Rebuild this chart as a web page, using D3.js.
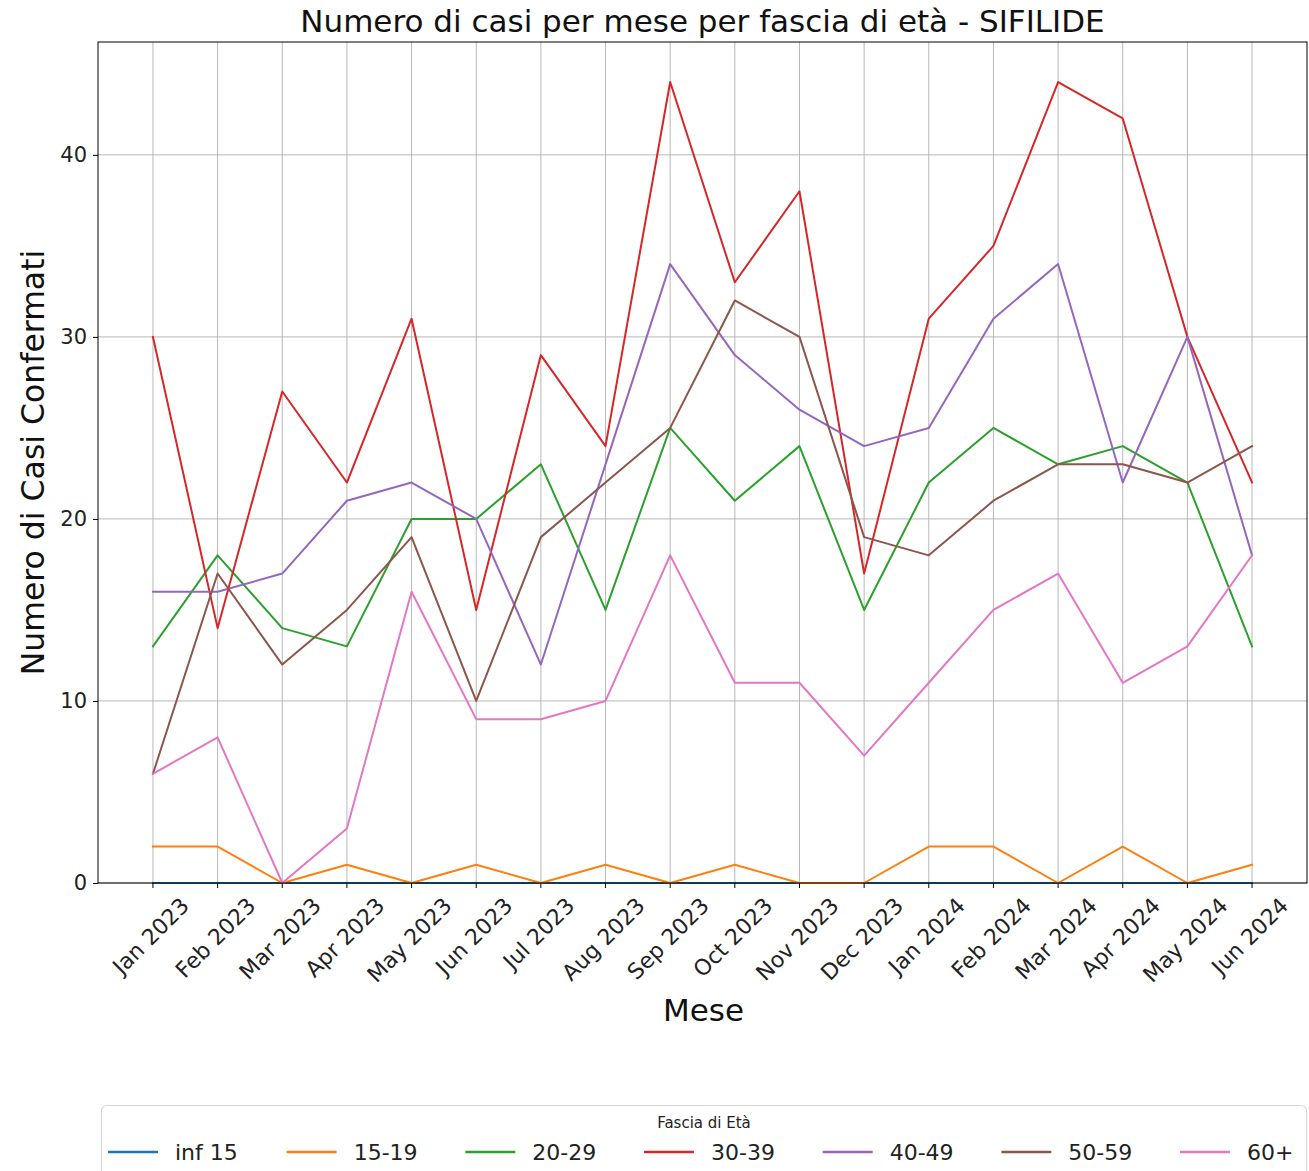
<!DOCTYPE html>
<html>
<head>
<meta charset="utf-8">
<script src="https://cdn.jsdelivr.net/npm/d3@7"></script>
<style>
  html, body { margin: 0; padding: 0; background: #fff; }
  svg { display: block; font-family: "DejaVu Sans", sans-serif; }
</style>
</head>
<body>
<svg id="chart" width="1309" height="1171"></svg>
<script>
const months = ["Jan 2023","Feb 2023","Mar 2023","Apr 2023","May 2023","Jun 2023","Jul 2023","Aug 2023","Sep 2023","Oct 2023","Nov 2023","Dec 2023","Jan 2024","Feb 2024","Mar 2024","Apr 2024","May 2024","Jun 2024"];
const seriesNames = ["inf 15","15-19","20-29","30-39","40-49","50-59","60+"];
const inf15   = [0,0,0,0,0,0,0,0,0,0,0,0,0,0,0,0,0,0];
const s15_19  = [2,2,0,1,0,1,0,1,0,1,0,0,2,2,0,2,0,1];
const s20_29  = [13,18,14,13,20,20,23,15,25,21,24,15,22,25,23,24,22,13];
const s30_39  = [30,14,27,22,31,15,29,24,44,33,38,17,31,35,44,42,30,22];
const s40_49  = [16,16,17,21,22,20,12,23,34,29,26,24,25,31,34,22,30,18];
const s50_59  = [6,17,12,15,19,10,19,22,25,32,30,19,18,21,23,23,22,24];
const s60plus = [6,8,0,3,16,9,9,10,18,11,11,7,11,15,17,11,13,18];
const yTicks  = [0,10,20,30,40];
const colors  = ["#1f77b4","#ff7f0e","#2ca02c","#d62728","#9467bd","#8c564b","#e377c2"];
const seriesValues = [inf15, s15_19, s20_29, s30_39, s40_49, s50_59, s60plus];

const svg = d3.select("#chart");
const L = 98, R = 1307, T = 42, B = 883;

const n = months.length;
const xPos = d3.scaleLinear().domain([-(n - 1) * 0.05, (n - 1) * 1.05]).range([L, R]);
const yMax = 46.2;
const y = d3.scaleLinear().domain([0, yMax]).range([B, T]);

// grid
const g = svg.append("g");
g.selectAll(".vg").data(months).enter().append("line")
  .attr("x1", (d, i) => xPos(i)).attr("x2", (d, i) => xPos(i))
  .attr("y1", T).attr("y2", B)
  .attr("stroke", "#b0b0b0").attr("stroke-width", 0.9);
g.selectAll(".hg").data(yTicks).enter().append("line")
  .attr("x1", L).attr("x2", R)
  .attr("y1", d => y(d)).attr("y2", d => y(d))
  .attr("stroke", "#b0b0b0").attr("stroke-width", 0.9);

// lines
const line = d3.line().x((d, i) => xPos(i)).y(d => y(d));
seriesValues.forEach((vals, k) => {
  svg.append("path").datum(vals)
    .attr("d", line)
    .attr("fill", "none")
    .attr("stroke", colors[k])
    .attr("stroke-width", 2)
    .attr("stroke-linejoin", "round")
    .attr("stroke-linecap", "square");
});

// frame
svg.append("rect").attr("x", L).attr("y", T).attr("width", R - L).attr("height", B - T)
  .attr("fill", "none").attr("stroke", "#000").attr("stroke-width", 1);

// y axis
const yAxis = d3.axisLeft(y).tickValues(yTicks).tickSize(5).tickPadding(6);
const ya = svg.append("g").attr("transform", `translate(${L},0)`).call(yAxis);
ya.select(".domain").remove();
ya.selectAll("text").attr("font-size", 21).attr("fill", "#222").attr("font-family", "DejaVu Sans");
ya.selectAll("line").attr("stroke", "#000");

// x axis ticks
const xa = svg.append("g");
xa.selectAll("line").data(months).enter().append("line")
  .attr("x1", (d, i) => xPos(i)).attr("x2", (d, i) => xPos(i))
  .attr("y1", B).attr("y2", B + 5).attr("stroke", "#000");
xa.selectAll("text").data(months).enter().append("text")
  .text(d => d)
  .attr("font-size", 22)
  .attr("fill", "#222")
  .attr("text-anchor", "middle")
  .attr("dominant-baseline", "central")
  .each(function(d, i) {
    const w = this.getComputedTextLength();
    const h = 22;
    const half = (w + h) / (2 * Math.SQRT2);
    const cx = xPos(i) - 2, cy = B + 11 + half;
    d3.select(this).attr("x", cx).attr("y", cy)
      .attr("transform", `rotate(-45, ${cx}, ${cy})`);
  });

// titles
svg.append("text").attr("x", (L + R) / 2).attr("y", 32)
  .attr("text-anchor", "middle").attr("font-size", 31).attr("fill", "#111")
  .text("Numero di casi per mese per fascia di età - SIFILIDE");
svg.append("text").attr("x", (L + R) / 2 + 1).attr("y", 1021)
  .attr("text-anchor", "middle").attr("font-size", 31).attr("fill", "#111")
  .text("Mese");
svg.append("text")
  .attr("transform", `translate(44, ${(T + B) / 2}) rotate(-90)`)
  .attr("text-anchor", "middle").attr("font-size", 31.5).attr("fill", "#111")
  .text("Numero di Casi Confermati");

// legend
const lg = svg.append("g");
lg.append("rect").attr("x", 101.5).attr("y", 1105.5).attr("width", 1205).attr("height", 90)
  .attr("rx", 5).attr("fill", "#fff").attr("stroke", "#d8d8d8").attr("stroke-width", 1.2);
lg.append("text").attr("x", 704).attr("y", 1128).attr("text-anchor", "middle")
  .attr("font-size", 15).attr("fill", "#222").text("Fascia di Età");
const lx = d3.scalePoint().domain(seriesNames).range([108, 1180]);
seriesNames.forEach((name, k) => {
  const x0 = lx(name);
  lg.append("line").attr("x1", x0).attr("x2", x0 + 50).attr("y1", 1152).attr("y2", 1152)
    .attr("stroke", colors[k]).attr("stroke-width", 2.5);
  lg.append("text").attr("x", x0 + 67).attr("y", 1160).attr("font-size", 22).attr("fill", "#222")
    .text(name);
});
</script>
</body>
</html>
